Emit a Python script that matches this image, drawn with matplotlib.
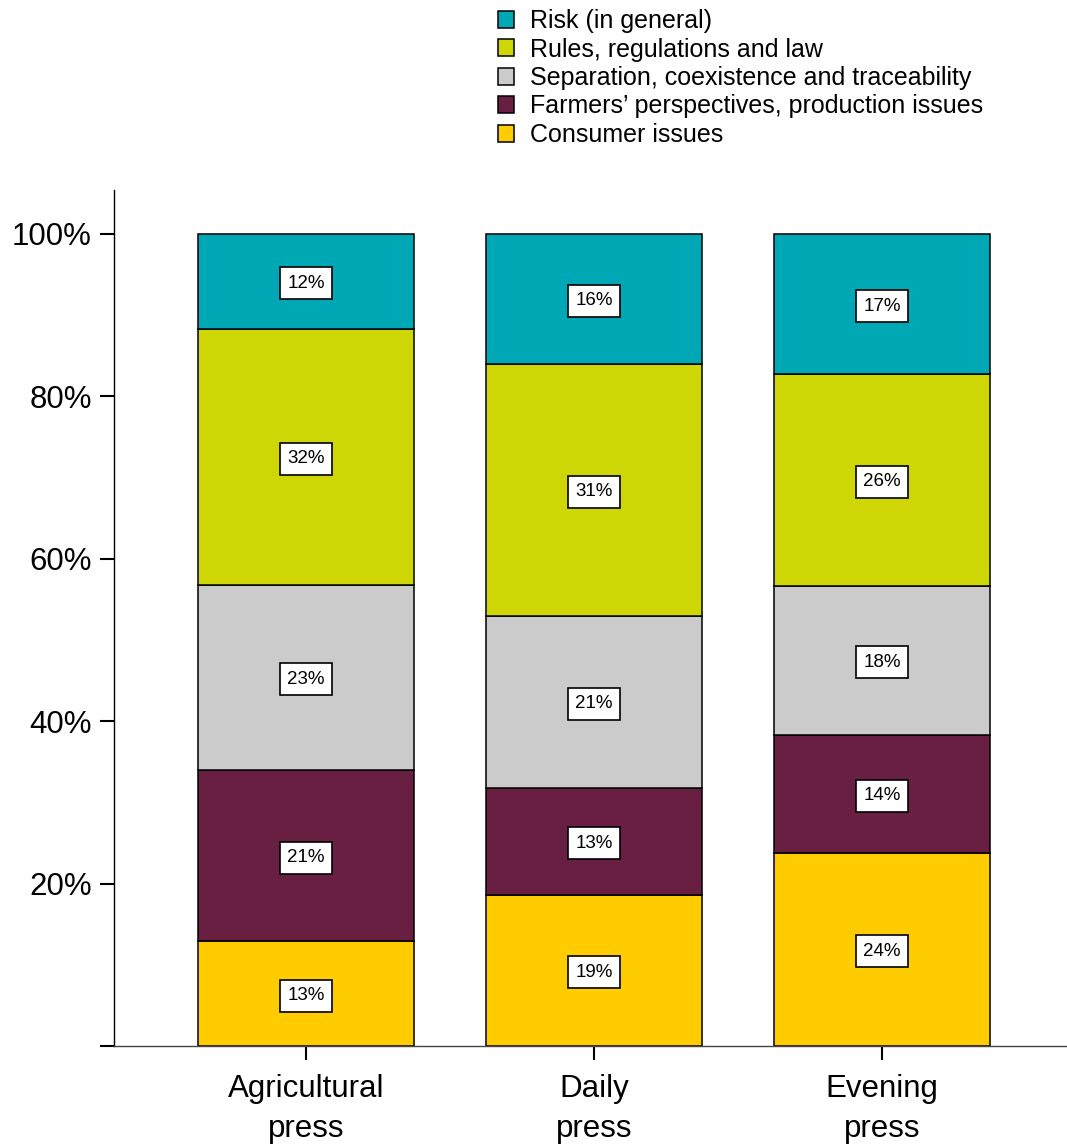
import matplotlib.pyplot as plt
import numpy as np

# Dati (percentuali per ogni tipo di stampa)
categories = ["Agricultural\npress", "Daily\npress", "Evening\npress"]
series_names = ["Consumer issues",
                "Farmers\u2019 perspectives, production issues",
                "Separation, coexistence and traceability",
                "Rules, regulations and law",
                "Risk (in general)"]
consumer = [12.9, 18.6, 23.8]
farmers = [21.1, 13.2, 14.5]
separation = [22.8, 21.2, 18.4]
rules = [31.5, 31.0, 26.0]
risk = [11.7, 16.0, 17.3]
value_labels = [["13%", "19%", "24%"],
                ["21%", "13%", "14%"],
                ["23%", "21%", "18%"],
                ["32%", "31%", "26%"],
                ["12%", "16%", "17%"]]
colors = ["#FECC00", "#681F42", "#CBCBCB", "#CED605", "#00A8B5"]

plt.rcParams['font.family'] = ['Liberation Sans', 'DejaVu Sans']

fig = plt.figure(figsize=(10.67, 11.44), dpi=100)
ax = fig.add_axes([114 / 1067, 1 - 1046 / 1144, 1 - 114 / 1067, (1046 - 190) / 1144])

x = np.arange(len(categories))
bottom = np.zeros(len(categories))
handles = []
for i, vals in enumerate([consumer, farmers, separation, rules, risk]):
    bars = ax.bar(x, vals, width=0.75, bottom=bottom, color=colors[i],
                  edgecolor='black', linewidth=1.1, label=series_names[i])
    handles.append(bars)
    for j, v in enumerate(vals):
        ax.text(x[j], bottom[j] + v / 2, value_labels[i][j], ha='center',
                va='center_baseline', fontsize=13.5,
                bbox=dict(boxstyle='square,pad=0.4', facecolor='white',
                          edgecolor='black', linewidth=1.2))
    bottom += np.array(vals)

ax.set_xlim(-0.667, 2.642)
ax.set_ylim(0, 105.4)
ax.set_xticks(x)
ax.set_xticklabels(categories, fontsize=22.5, linespacing=1.45)
ax.set_yticks([0, 20, 40, 60, 80, 100])
ax.set_yticklabels(["", "20%", "40%", "60%", "80%", "100%"], fontsize=22.5)
ax.tick_params(axis='both', length=10, width=1.5, pad=6)
ax.tick_params(axis='x', pad=10)
ax.spines['top'].set_visible(False)
ax.spines['right'].set_visible(False)
ax.spines['left'].set_linewidth(1.0)
ax.spines['bottom'].set_linewidth(1.0)
ax.spines['bottom'].set_color('#444444')

fig.legend(handles[::-1], series_names[::-1], loc='upper left',
           bbox_to_anchor=(498 / 1067, 1 - 9 / 1144), frameon=False,
           fontsize=18, borderpad=0, borderaxespad=0,
           handlelength=0.65, handleheight=0.65, handletextpad=0.65,
           labelspacing=0.18)

fig.savefig("out.png", dpi=100)
